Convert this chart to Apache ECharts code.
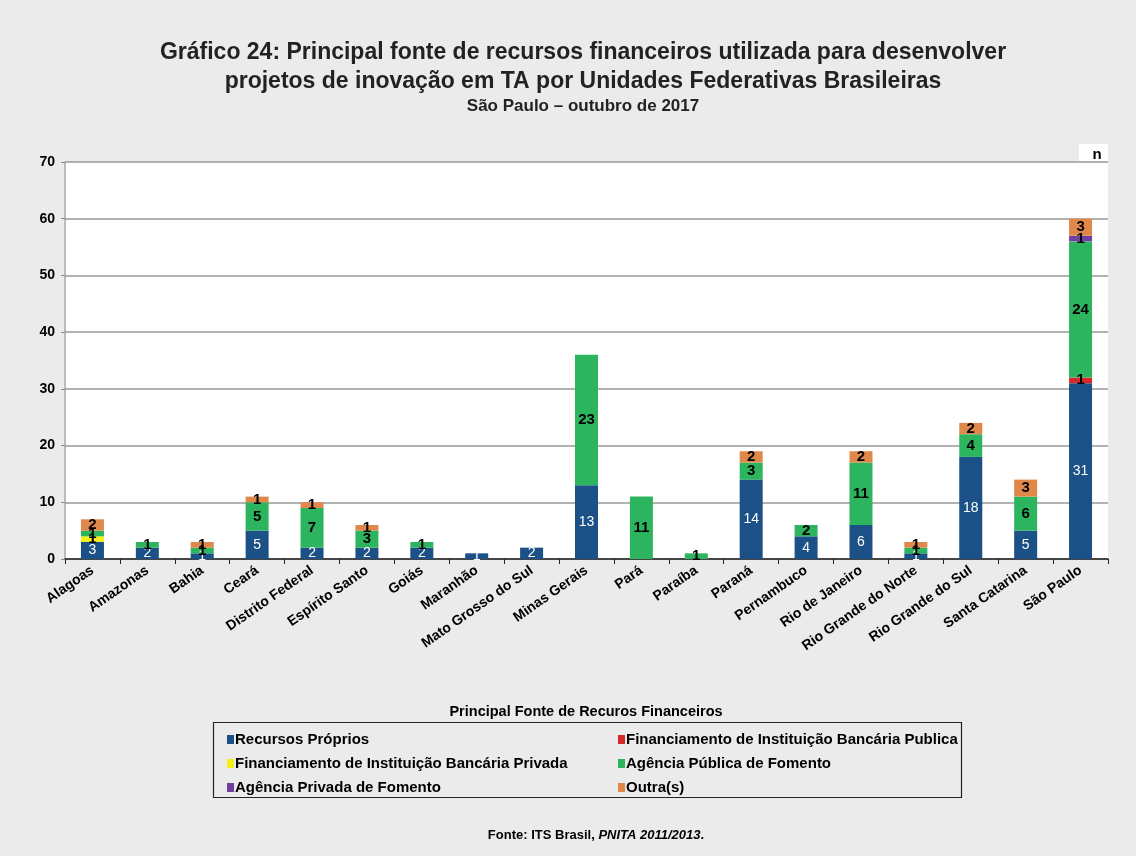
<!DOCTYPE html>
<html><head><meta charset="utf-8">
<script src="https://cdn.jsdelivr.net/npm/echarts@6/dist/echarts.min.js"></script>
<style>html,body{margin:0;padding:0;background:#ebebeb;}#c{width:1136px;height:856px;}</style>
</head><body><div id="c"></div>
<script>
const categories = ['Alagoas','Amazonas','Bahia','Ceará','Distrito Federal','Espírito Santo','Goiás','Maranhão','Mato Grosso do Sul','Minas Gerais','Pará','Paraíba','Paraná','Pernambuco','Rio de Janeiro','Rio Grande do Norte','Rio Grande do Sul','Santa Catarina','São Paulo'];
const seriesNames = ['Recursos Próprios','Financiamento de Instituição Bancária Publica','Financiamento de Instituição Bancária Privada','Agência Pública de Fomento','Agência Privada de Fomento','Outra(s)'];
const recursosProprios   = [3,2,1,5,2,2,2,1,2,13,0,0,14,4,6,1,18,5,31];
const finPublica         = [0,0,0,0,0,0,0,0,0,0,0,0,0,0,0,0,0,0,1];
const finPrivada         = [1,0,0,0,0,0,0,0,0,0,0,0,0,0,0,0,0,0,0];
const agenciaPublica     = [1,1,1,5,7,3,1,0,0,23,11,1,3,2,11,1,4,6,24];
const agenciaPrivada     = [0,0,0,0,0,0,0,0,0,0,0,0,0,0,0,0,0,0,1];
const outras             = [2,0,1,1,1,1,0,0,0,0,0,0,2,0,2,1,2,3,3];
const yTicks = [0,10,20,30,40,50,60,70];
const colors = ['#1b5186','#d42a2a','#f3ef1a','#2db45f','#7040a0','#e0874a'];
const allData = [recursosProprios, finPublica, finPrivada, agenciaPublica, agenciaPrivada, outras];

const FONT = 'Liberation Sans, Arial, sans-serif';

const series = seriesNames.map((name, i) => ({
  name, type: 'bar', stack: 'total', barWidth: 23,
  itemStyle: { color: colors[i] },
  data: allData[i].map(v => v === 0 ? null : v),
  label: {
    show: true, position: 'inside',
    color: i === 0 ? '#ffffff' : '#000000',
    fontWeight: i === 0 ? 'normal' : 'bold',
    fontFamily: FONT, fontSize: i === 0 ? 14 : 15,
    formatter: p => p.value
  }
}));

const legendPos = [[222,727],[613,727],[222,751],[613,751],[222,775],[613,775]];
const legends = seriesNames.map((n, i) => ({
  data: [n], left: legendPos[i][0], top: legendPos[i][1],
  icon: 'rect', itemWidth: 7, itemHeight: 9, itemGap: 0,
  textStyle: { fontFamily: FONT, fontWeight: 'bold', fontSize: 15, color: '#000', padding: [0,0,0,-4] },
  selectedMode: false
}));

const chart = echarts.init(document.getElementById('c'), null, { renderer: 'canvas' });
chart.setOption({
  backgroundColor: '#ebebeb',
  animation: false,
  title: [
    { text: 'Gráfico 24: Principal fonte de recursos financeiros utilizada para desenvolver\nprojetos de inovação em TA por Unidades Federativas Brasileiras',
      left: 578, top: 33, textAlign: 'center',
      textStyle: { fontFamily: FONT, fontWeight: 'bold', fontSize: 23, lineHeight: 29, color: '#222' } },
    { text: 'São Paulo – outubro de 2017', left: 578, top: 93, textAlign: 'center',
      textStyle: { fontFamily: FONT, fontWeight: 'bold', fontSize: 17, color: '#222' } },
    { text: 'Principal Fonte de Recuros Financeiros', left: 581, top: 699, textAlign: 'center',
      textStyle: { fontFamily: FONT, fontWeight: 'bold', fontSize: 14.5, color: '#000' } },
    { text: '{a|Fonte: ITS Brasil, }{b|PNITA 2011/2013}{a|.}', left: 591, top: 824, textAlign: 'center',
      textStyle: { rich: {
        a: { fontFamily: FONT, fontWeight: 'bold', fontSize: 13, color: '#000' },
        b: { fontFamily: FONT, fontWeight: 'bold', fontStyle: 'italic', fontSize: 13, color: '#000' } } } }
  ],
  legend: legends,
  graphic: [
    { type: 'rect', shape: { x: 213.5, y: 722.5, width: 748, height: 75 }, style: { fill: 'transparent', stroke: '#222', lineWidth: 1.2 }, z: 0 },
    { type: 'rect', shape: { x: 1079, y: 144, width: 29, height: 18 }, style: { fill: '#ffffff' }, z: 0 },
    { type: 'text', x: 1097, y: 147, style: { text: 'n', fontFamily: FONT, fontWeight: 'bold', fontSize: 15, fill: '#000', align: 'center' }, z: 1 }
  ],
  grid: { left: 65, right: 28, top: 162, bottom: 297, show: true, backgroundColor: '#ffffff', borderWidth: 0 },
  xAxis: {
    type: 'category', data: categories,
    axisLine: { lineStyle: { color: '#222', width: 1.5 } },
    axisTick: { show: true, alignWithLabel: false, length: 5, lineStyle: { color: '#222' } },
    axisLabel: { rotate: 35, interval: 0, fontFamily: FONT, fontWeight: 'bold', fontSize: 14, color: '#000', margin: 10 }
  },
  yAxis: {
    type: 'value', min: yTicks[0], max: yTicks[yTicks.length-1], interval: 10,
    axisLine: { show: true, lineStyle: { color: '#aaa', width: 1.5 } },
    axisTick: { show: true, length: 4, lineStyle: { color: '#888' } },
    splitLine: { lineStyle: { color: '#999', width: 1.5 } },
    axisLabel: { fontFamily: FONT, fontWeight: 'bold', fontSize: 14, color: '#000', margin: 10 }
  },
  series
});
</script></body></html>
